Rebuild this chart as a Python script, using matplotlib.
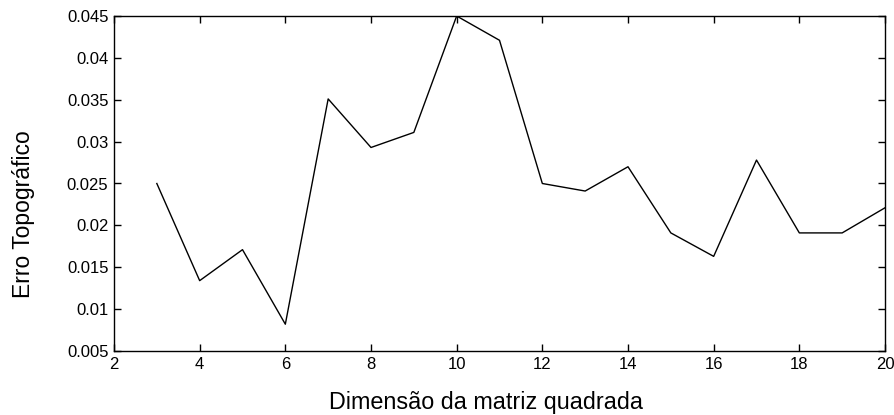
import matplotlib
matplotlib.use("Agg")
import matplotlib.pyplot as plt

# Dimension of the square matrix vs topographic error
dims = [3, 4, 5, 6, 7, 8, 9, 10, 11, 12, 13, 14, 15, 16, 17, 18, 19, 20]
erro = [0.0250, 0.0134, 0.0171, 0.0082, 0.0351, 0.0293, 0.0311, 0.0450, 0.0421,
        0.0250, 0.0241, 0.0270, 0.0191, 0.0163, 0.0278, 0.0191, 0.0191, 0.0221]

xticks = [2, 4, 6, 8, 10, 12, 14, 16, 18, 20]
yticks = [0.005, 0.01, 0.015, 0.02, 0.025, 0.03, 0.035, 0.04, 0.045]
ytick_labels = ["0.005", "0.01", "0.015", "0.02", "0.025", "0.03", "0.035", "0.04", "0.045"]

plt.rcParams["font.family"] = ["Liberation Sans", "DejaVu Sans"]

fig = plt.figure(figsize=(8.95, 4.15), dpi=100)
ax = fig.add_axes([114 / 895, 1 - 351 / 415, 771 / 895, 335 / 415])

ax.plot(dims, erro, color="black", linewidth=1.0)

ax.set_xlim(2, 20)
ax.set_ylim(0.005, 0.045)
ax.set_xticks(xticks)
ax.set_yticks(yticks)
ax.set_yticklabels(ytick_labels)
ax.tick_params(direction="in", top=True, right=True, length=5, labelsize=12, width=1, pad=4)
for s in ax.spines.values():
    s.set_linewidth(1.0)

# label positions follow the reference (slightly off-centre)
ax.set_xlabel("Dimensão da matriz quadrada", fontsize=16.8)
ax.set_ylabel("Erro Topográfico", fontsize=16.5)
ax.xaxis.label.set_va("center")
ax.yaxis.label.set_va("center")
ax.xaxis.set_label_coords(372 / 771, -51 / 335)
ax.yaxis.set_label_coords(-90 / 771, 137 / 335)

fig.savefig("out.png", dpi=100)
